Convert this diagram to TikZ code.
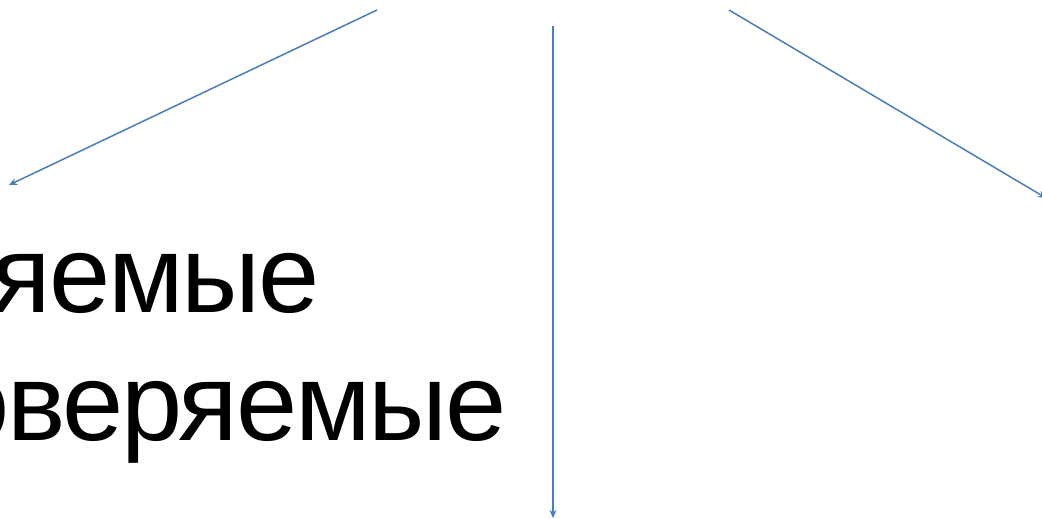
\documentclass[tikz,border=0pt]{standalone}
\usepackage{fontspec}
\setmainfont{Liberation Sans}
\usetikzlibrary{
  arrows.meta,
  positioning
}
\definecolor{linkblue}{RGB}{74,126,187}

\begin{document}
\begin{tikzpicture}[
  x=1pt, y=-1pt,
  arrow/.style={
    -{Stealth[length=8pt,width=7pt]},
    line width=1.5pt,
    draw=linkblue,
  },
  bigword/.style={
    font=\fontsize{110}{127}\selectfont\addfontfeature{LetterSpace=-2},
    inner sep=0pt,
    anchor=base east,
  },
]
\useasboundingbox (0,0) rectangle (1042,519);

% ── Words ──
\node[bigword] (upper) at (320,312) {яемые};
\node[bigword] (lower) at (507,440) {оверяемые};

% ── Arrow ends ──
\coordinate (leftfrom)  at (377,10);
\coordinate (leftto)    at (9,185);
\coordinate (midfrom)   at (553,26);
\coordinate (midto)     at (553,518);
\coordinate (rightfrom) at (729,10);
\coordinate (rightto)   at (1046,198);

% ── Arrows ──
\draw[arrow] (leftfrom) -- (leftto);
\draw[arrow] (midfrom) -- (midto);
\draw[arrow] (rightfrom) -- (rightto);

\end{tikzpicture}
\end{document}
